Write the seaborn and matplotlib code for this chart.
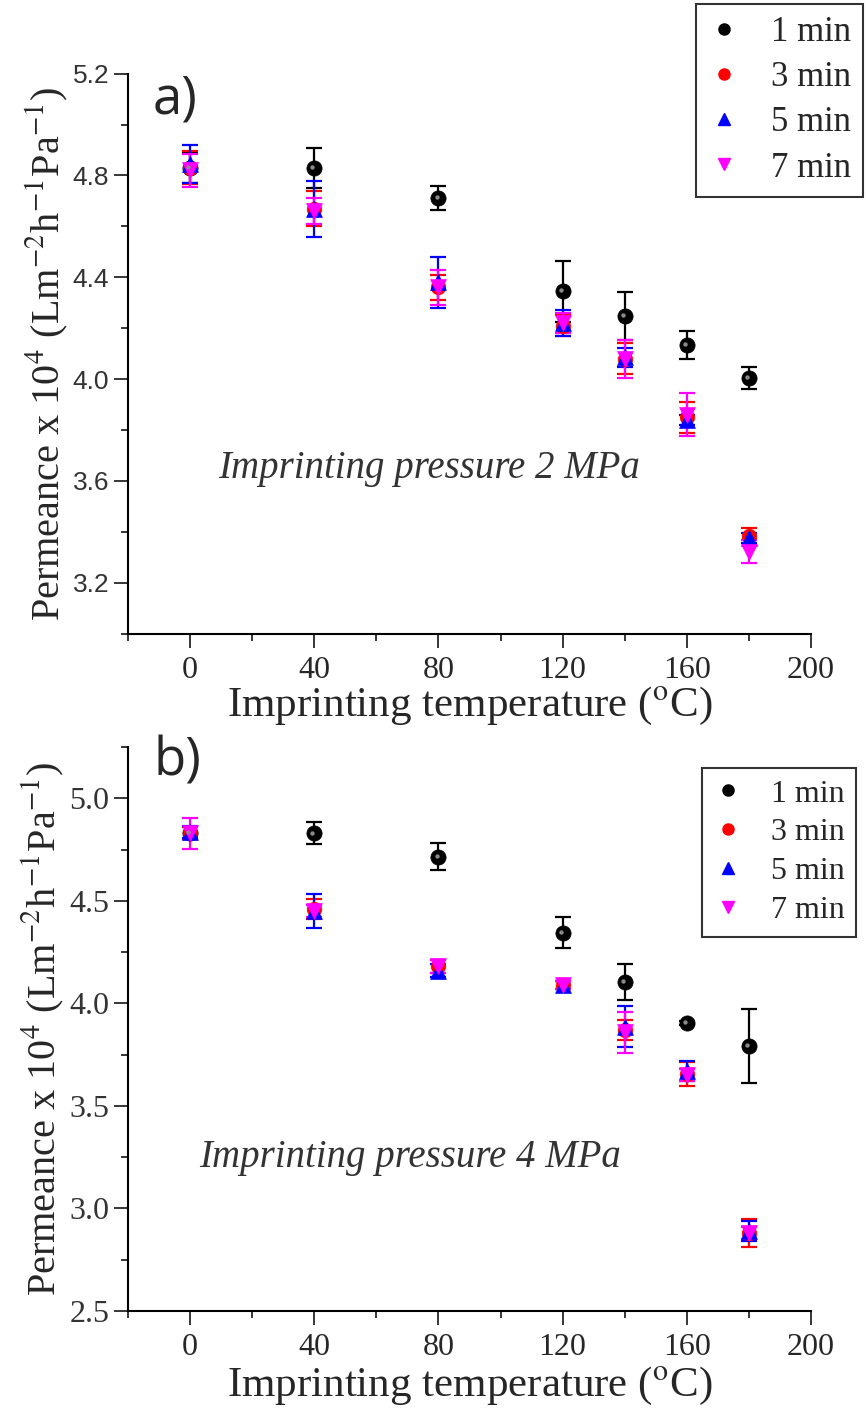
import numpy as np
import pandas as pd
import seaborn as sns
import matplotlib.pyplot as plt
from matplotlib.ticker import MultipleLocator
from matplotlib.lines import Line2D

# Imprinting temperatures (deg C) and imprinting times
temps = [0, 40, 80, 120, 140, 160, 180]
times = ['1 min', '3 min', '5 min', '7 min']

# Panel a) imprinting pressure 2 MPa
a_1min = [4.83, 4.83, 4.713, 4.345, 4.247, 4.134, 4.003]
a_1min_err = [0.06, 0.08, 0.047, 0.12, 0.095, 0.054, 0.043]
a_3min = [4.83, 4.67, 4.36, 4.21, 4.08, 3.85, 3.385]
a_3min_err = [0.065, 0.07, 0.05, 0.04, 0.06, 0.06, 0.03]
a_5min = [4.845, 4.67, 4.38, 4.22, 4.085, 3.84, 3.375]
a_5min_err = [0.075, 0.11, 0.1, 0.05, 0.037, 0.02, 0.02]
a_7min = [4.82, 4.66, 4.36, 4.22, 4.08, 3.86, 3.322]
a_7min_err = [0.065, 0.05, 0.07, 0.04, 0.075, 0.085, 0.045]

# Panel b) imprinting pressure 4 MPa
b_1min = [4.83, 4.829, 4.715, 4.344, 4.103, 3.905, 3.794]
b_1min_err = [0.03, 0.053, 0.065, 0.075, 0.088, 0.01, 0.18]
b_3min = [4.83, 4.46, 4.18, 4.09, 3.87, 3.655, 2.88]
b_3min_err = [0.03, 0.05, 0.03, 0.02, 0.05, 0.06, 0.07]
b_5min = [4.835, 4.45, 4.16, 4.09, 3.885, 3.67, 2.89]
b_5min_err = [0.03, 0.083, 0.03, 0.02, 0.1, 0.05, 0.05]
b_7min = [4.83, 4.45, 4.18, 4.09, 3.86, 3.65, 2.88]
b_7min_err = [0.075, 0.03, 0.03, 0.02, 0.1, 0.03, 0.03]

colors = {'1 min': 'black', '3 min': '#ff0000', '5 min': '#0000ff', '7 min': '#ff00ff'}
markers = {'1 min': 'o', '3 min': 'o', '5 min': '^', '7 min': 'v'}
sizes = {'1 min': 120, '3 min': 110, '5 min': 130, '7 min': 130}


def make_frame(series, errs):
    rows = []
    for t, vals, ers in zip(times, series, errs):
        for x, v, e in zip(temps, vals, ers):
            rows.append({'temp': x, 'perm': v, 'err': e, 'time': t})
    return pd.DataFrame(rows)


df_a = make_frame([a_1min, a_3min, a_5min, a_7min],
                  [a_1min_err, a_3min_err, a_5min_err, a_7min_err])
df_b = make_frame([b_1min, b_3min, b_5min, b_7min],
                  [b_1min_err, b_3min_err, b_5min_err, b_7min_err])

sns.set_style("ticks")
plt.rcParams['font.family'] = ['Liberation Serif', 'DejaVu Serif']
plt.rcParams['mathtext.fontset'] = 'stix'

fig = plt.figure(figsize=(8.66, 14.14), dpi=100)
W, H = 866, 1414
ax_a = fig.add_axes([128 / W, 1 - 633.6 / H, 683 / W, (633.6 - 73.7) / H])
ax_b = fig.add_axes([128 / W, 1 - 1311 / H, 683 / W, (1311 - 747) / H])

ylabel = r'Permeance x 10$^4$ (Lm$^{-2}$h$^{-1}$Pa$^{-1}$)'


def draw_panel(ax, df, ylim, ymaj, note, note_xy, letter, leg_anchor, leg_font,
               leg_space, ytick_family, ytick_size, xlab_pad):
    for t in times:
        sub = df[df['time'] == t]
        ax.errorbar(sub['temp'], sub['perm'], yerr=sub['err'], fmt='none',
                    ecolor=colors[t], elinewidth=1.6, capsize=6, capthick=1.6, zorder=2)
        sns.scatterplot(data=sub, x='temp', y='perm', color=colors[t], marker=markers[t],
                        s=sizes[t], edgecolor=colors[t], linewidth=0.5, ax=ax, zorder=3,
                        legend=False)
        if t == '1 min':
            # small highlight like the shaded sphere markers
            ax.scatter(sub['temp'] - 0.6, sub['perm'] + 0.004, s=10, color='#8a8a8a',
                       zorder=4, lw=0)
    ax.set_xlim(-20, 200)
    ax.set_ylim(*ylim)
    ax.xaxis.set_major_locator(MultipleLocator(40))
    ax.xaxis.set_minor_locator(MultipleLocator(20))
    ax.yaxis.set_major_locator(MultipleLocator(ymaj))
    ax.yaxis.set_minor_locator(MultipleLocator(ymaj / 2))
    ax.tick_params(which='major', length=10, width=1.3, direction='out')
    ax.tick_params(which='minor', length=5, width=1.3, direction='out')
    ax.tick_params(axis='x', labelsize=23, pad=6)
    ax.tick_params(axis='y', labelsize=ytick_size)
    for lab in ax.get_yticklabels():
        lab.set_family(ytick_family)
        lab.set_color('#333333')
    sns.despine(ax=ax)
    for sp in ['left', 'bottom']:
        ax.spines[sp].set_linewidth(1.5)
        ax.spines[sp].set_color('black')
    ax.set_xlabel(r'Imprinting temperature ($^{\rm o}$C)', fontsize=31, labelpad=xlab_pad)
    ax.set_ylabel(ylabel, fontsize=29, labelpad=2)
    ax.text(note_xy[0], note_xy[1], note, fontsize=28, style='italic', color='#333333',
            transform=ax.transData, va='center')
    ax.text(153 / W, letter[1], letter[0], fontsize=38, family='Open Sans',
            transform=fig.transFigure, va='center')
    handles = [Line2D([], [], ls='none', marker=markers[t], color=colors[t],
                      markersize=8) for t in times]
    leg = fig.legend(handles, times, loc='upper right', bbox_to_anchor=leg_anchor,
                     bbox_transform=fig.transFigure, fontsize=leg_font, frameon=True,
                     fancybox=False, edgecolor='black', labelspacing=leg_space,
                     handletextpad=0.9, borderpad=0.35, handlelength=0.9,
                     borderaxespad=0)
    leg.get_frame().set_linewidth(1.5)
    return ax


draw_panel(ax_a, df_a, (3.0, 5.2), 0.4, 'Imprinting pressure 2 MPa', (9, 3.65),
           ('a)', 1 - 100 / H), (863 / W, 1 - 4 / H), 25, 0.35, 'Liberation Sans', 19, 0)
draw_panel(ax_b, df_b, (2.5, 5.25), 0.5, 'Imprinting pressure 4 MPa', (3, 3.25),
           ('b)', 1 - 762 / H), (856 / W, 1 - 768 / H), 23, 0.3, 'Liberation Serif', 23, 2)

fig.savefig('out.png', dpi=100)
